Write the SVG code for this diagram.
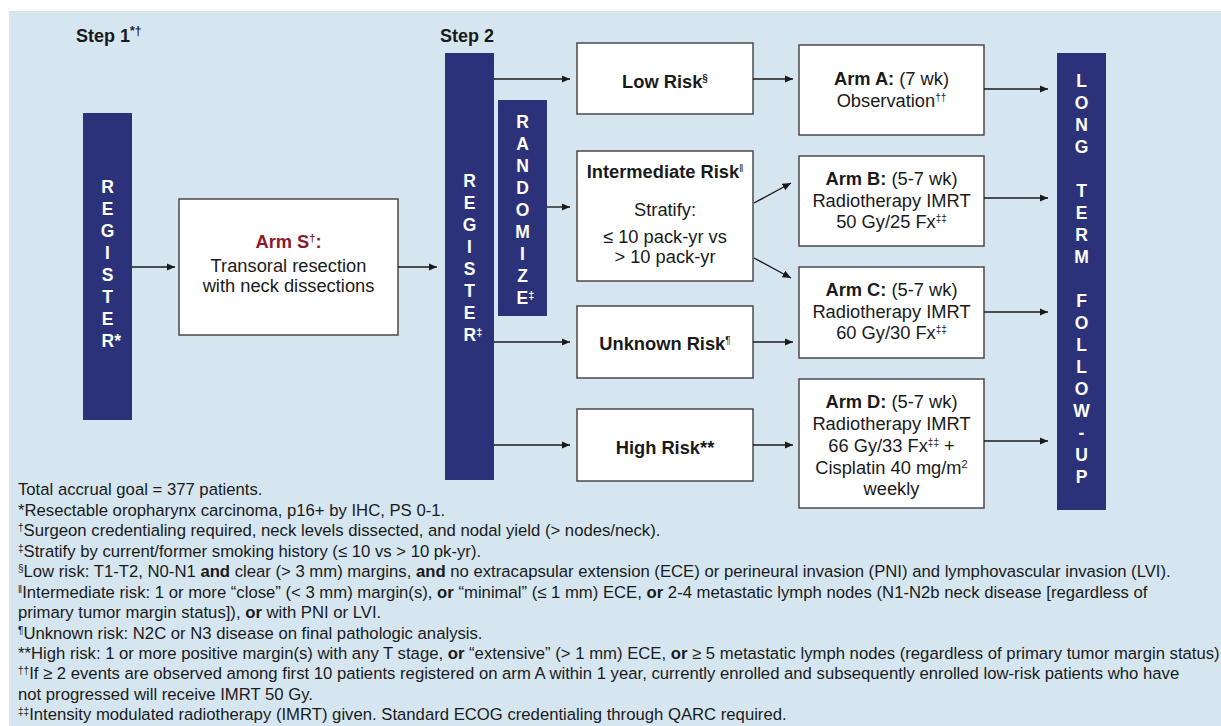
<svg xmlns="http://www.w3.org/2000/svg" width="1221" height="726" viewBox="0 0 1221 726">
<defs>
<style>
text{font-family:"Liberation Sans",Arial,Helvetica,sans-serif;fill:#1a1a1a}
.step{font-size:18px;font-weight:bold}
.bar{fill:#2b3279}
.bl{font-size:17.5px;font-weight:bold;fill:#ffffff;text-anchor:middle}
.box{fill:#ffffff;stroke:#4a4a4a;stroke-width:1.5}
.t{font-size:18.3px;text-anchor:middle}
.b{font-weight:bold}
.fn{font-size:16.7px}
.conn line{stroke:#1a1a1a;stroke-width:1.4;marker-end:url(#ah)}
</style>
<marker id="ah" markerWidth="9" markerHeight="8" refX="8.5" refY="3.75" orient="auto" markerUnits="userSpaceOnUse">
<path d="M0,0 L8.5,3.75 L0,7.5 z" fill="#1a1a1a"/>
</marker>
</defs>
<rect x="0" y="0" width="1221" height="726" fill="#ffffff"/>
<rect x="9" y="11" width="1212" height="715" fill="#d5e6f1"/>

<g id="step1"><text class="step" x="76" y="42">Step 1<tspan font-size="12" dy="-7">*†</tspan></text></g>
<g id="step2"><text class="step" x="440" y="42">Step 2</text></g>

<g id="register1">
<rect class="bar" x="83" y="113" width="49" height="307"/>
<text class="bl" x="107.5" y="193">R</text>
<text class="bl" x="107.5" y="215">E</text>
<text class="bl" x="107.5" y="237">G</text>
<text class="bl" x="107.5" y="259">I</text>
<text class="bl" x="107.5" y="281">S</text>
<text class="bl" x="107.5" y="303">T</text>
<text class="bl" x="107.5" y="325">E</text>
<text class="bl" x="101.5" y="347" style="text-anchor:start">R*</text>
</g>

<g id="armS">
<rect class="box" x="179" y="199" width="219" height="136"/>
<text class="t b" x="288.5" y="248" style="fill:#8a1b2d">Arm S<tspan font-size="11" dy="-6" style="fill:#8a1b2d">†</tspan><tspan dy="6" style="fill:#8a1b2d">:</tspan></text>
<text class="t" x="288.5" y="271.5">Transoral resection</text>
<text class="t" x="288.5" y="291.5">with neck dissections</text>
</g>

<g id="register2">
<rect class="bar" x="445" y="53" width="49" height="427"/>
<text class="bl" x="469.5" y="187">R</text>
<text class="bl" x="469.5" y="209">E</text>
<text class="bl" x="469.5" y="231">G</text>
<text class="bl" x="469.5" y="253">I</text>
<text class="bl" x="469.5" y="275">S</text>
<text class="bl" x="469.5" y="297">T</text>
<text class="bl" x="469.5" y="319">E</text>
<text class="bl" x="463.5" y="341" style="text-anchor:start">R<tspan font-size="11" dy="-5">‡</tspan></text>
</g>

<g id="randomize">
<rect class="bar" x="498" y="100" width="49" height="216"/>
<text class="bl" x="522.5" y="128">R</text>
<text class="bl" x="522.5" y="150">A</text>
<text class="bl" x="522.5" y="172">N</text>
<text class="bl" x="522.5" y="194">D</text>
<text class="bl" x="522.5" y="216">O</text>
<text class="bl" x="522.5" y="238">M</text>
<text class="bl" x="522.5" y="260">I</text>
<text class="bl" x="522.5" y="282">Z</text>
<text class="bl" x="516.5" y="304" style="text-anchor:start">E<tspan font-size="11" dy="-5">‡</tspan></text>
</g>

<g id="lowRisk">
<rect class="box" x="577" y="43" width="176" height="71"/>
<text class="t b" x="665" y="88">Low Risk<tspan font-size="10" dy="-6">§</tspan></text>
</g>

<g id="intermediateRisk">
<rect class="box" x="577" y="151" width="176" height="130"/>
<text class="t b" x="665" y="178">Intermediate Risk<tspan font-size="10" font-weight="normal" dy="-6">‖</tspan></text>
<text class="t" x="665" y="216">Stratify:</text>
<text class="t" x="665" y="243">≤ 10 pack-yr vs</text>
<text class="t" x="665" y="263">&gt; 10 pack-yr</text>
</g>

<g id="unknownRisk">
<rect class="box" x="577" y="306" width="176" height="72"/>
<text class="t b" x="665" y="350">Unknown Risk<tspan font-size="10" font-weight="normal" dy="-6">¶</tspan></text>
</g>

<g id="highRisk">
<rect class="box" x="577" y="409" width="176" height="72"/>
<text class="t b" x="665" y="454">High Risk**</text>
</g>

<g id="armA">
<rect class="box" x="799" y="45" width="185" height="90"/>
<text class="t" x="891.5" y="85"><tspan class="b">Arm A:</tspan> (7 wk)</text>
<text class="t" x="891.5" y="106.5">Observation<tspan font-size="10" dy="-6">††</tspan></text>
</g>

<g id="armB">
<rect class="box" x="799" y="156" width="185" height="90"/>
<text class="t" x="891.5" y="185"><tspan class="b">Arm B:</tspan> (5-7 wk)</text>
<text class="t" x="891.5" y="206.5">Radiotherapy IMRT</text>
<text class="t" x="891.5" y="228">50 Gy/25 Fx<tspan font-size="10" dy="-6">‡‡</tspan></text>
</g>

<g id="armC">
<rect class="box" x="799" y="267" width="185" height="91"/>
<text class="t" x="891.5" y="296"><tspan class="b">Arm C:</tspan> (5-7 wk)</text>
<text class="t" x="891.5" y="317.5">Radiotherapy IMRT</text>
<text class="t" x="891.5" y="339">60 Gy/30 Fx<tspan font-size="10" dy="-6">‡‡</tspan></text>
</g>

<g id="armD">
<rect class="box" x="799" y="379" width="185" height="129"/>
<text class="t" x="891.5" y="408"><tspan class="b">Arm D:</tspan> (5-7 wk)</text>
<text class="t" x="891.5" y="430">Radiotherapy IMRT</text>
<text class="t" x="891.5" y="452">66 Gy/33 Fx<tspan font-size="10" dy="-6">‡‡</tspan><tspan dy="6"> +</tspan></text>
<text class="t" x="891.5" y="474">Cisplatin 40 mg/m<tspan font-size="11" dy="-6">2</tspan></text>
<text class="t" x="891.5" y="495">weekly</text>
</g>

<g id="longTermFollowUp">
<rect class="bar" x="1057" y="53" width="49" height="457"/>
<text class="bl" x="1081.5" y="87">L</text>
<text class="bl" x="1081.5" y="109">O</text>
<text class="bl" x="1081.5" y="131">N</text>
<text class="bl" x="1081.5" y="153">G</text>
<text class="bl" x="1081.5" y="197">T</text>
<text class="bl" x="1081.5" y="219">E</text>
<text class="bl" x="1081.5" y="241">R</text>
<text class="bl" x="1081.5" y="263">M</text>
<text class="bl" x="1081.5" y="307">F</text>
<text class="bl" x="1081.5" y="329">O</text>
<text class="bl" x="1081.5" y="351">L</text>
<text class="bl" x="1081.5" y="373">L</text>
<text class="bl" x="1081.5" y="395">O</text>
<text class="bl" x="1081.5" y="417">W</text>
<text class="bl" x="1081.5" y="439">-</text>
<text class="bl" x="1081.5" y="461">U</text>
<text class="bl" x="1081.5" y="483">P</text>
</g>

<g id="connectors" class="conn">
<line x1="132" y1="267" x2="175" y2="267"/>
<line x1="398" y1="267" x2="437" y2="267"/>
<line x1="494" y1="79" x2="570" y2="79"/>
<line x1="547" y1="207" x2="570" y2="207"/>
<line x1="494" y1="342" x2="570" y2="342"/>
<line x1="494" y1="445" x2="570" y2="445"/>
<line x1="753" y1="79" x2="793" y2="79"/>
<line x1="754" y1="203" x2="791" y2="183"/>
<line x1="754" y1="258" x2="791" y2="278"/>
<line x1="753" y1="342" x2="793" y2="342"/>
<line x1="753" y1="445" x2="793" y2="445"/>
<line x1="984" y1="89" x2="1048" y2="89"/>
<line x1="984" y1="198" x2="1048" y2="198"/>
<line x1="984" y1="312" x2="1048" y2="312"/>
<line x1="984" y1="441" x2="1048" y2="441"/>
</g>

<g id="footnotes" class="fn">
<text class="fn" x="18" y="495">Total accrual goal = 377 patients.</text>
<text class="fn" x="18" y="515.5">*Resectable oropharynx carcinoma, p16+ by IHC, PS 0-1.</text>
<text class="fn" x="18" y="536"><tspan font-size="10" dy="-5">†</tspan><tspan dy="5">Surgeon credentialing required, neck levels dissected, and nodal yield (&gt; nodes/neck).</tspan></text>
<text class="fn" x="18" y="556.5"><tspan font-size="10" dy="-5">‡</tspan><tspan dy="5">Stratify by current/former smoking history (≤ 10 vs &gt; 10 pk-yr).</tspan></text>
<text class="fn" x="18" y="577"><tspan font-size="10" dy="-5">§</tspan><tspan dy="5">Low risk: T1-T2, N0-N1 </tspan><tspan class="b">and</tspan> clear (&gt; 3 mm) margins, <tspan class="b">and</tspan> no extracapsular extension (ECE) or perineural invasion (PNI) and lymphovascular invasion (LVI).</text>
<text class="fn" x="18" y="597.5"><tspan font-size="10" dy="-5">‖</tspan><tspan dy="5">Intermediate risk: 1 or more “close” (&lt; 3 mm) margin(s), </tspan><tspan class="b">or</tspan> “minimal” (≤ 1 mm) ECE, <tspan class="b">or</tspan> 2-4 metastatic lymph nodes (N1-N2b neck disease [regardless of</text>
<text class="fn" x="18" y="618">primary tumor margin status]), <tspan class="b">or</tspan> with PNI or LVI.</text>
<text class="fn" x="18" y="638.5"><tspan font-size="10" dy="-5">¶</tspan><tspan dy="5">Unknown risk: N2C or N3 disease on final pathologic analysis.</tspan></text>
<text class="fn" x="18" y="659">**High risk: 1 or more positive margin(s) with any T stage, <tspan class="b">or</tspan> “extensive” (&gt; 1 mm) ECE, <tspan class="b">or</tspan> ≥ 5 metastatic lymph nodes (regardless of primary tumor margin status)</text>
<text class="fn" x="18" y="679"><tspan font-size="10" dy="-5">††</tspan><tspan dy="5">If ≥ 2 events are observed among first 10 patients registered on arm A within 1 year, currently enrolled and subsequently enrolled low-risk patients who have</tspan></text>
<text class="fn" x="18" y="699.5">not progressed will receive IMRT 50 Gy.</text>
<text class="fn" x="18" y="720"><tspan font-size="10" dy="-5">‡‡</tspan><tspan dy="5">Intensity modulated radiotherapy (IMRT) given. Standard ECOG credentialing through QARC required.</tspan></text>
</g>
</svg>
